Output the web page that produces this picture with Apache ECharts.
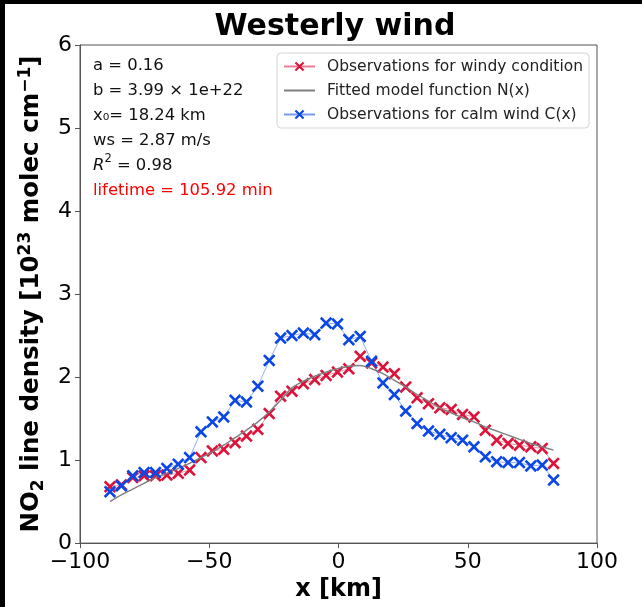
<!DOCTYPE html>
<html>
<head>
<meta charset="utf-8">
<script src="https://cdn.jsdelivr.net/npm/echarts@6/dist/echarts.min.js"></script>
<style>
  html, body { margin: 0; padding: 0; background: #fff; }
  #chart { width: 642px; height: 607px; }
</style>
</head>
<body>
<div id="chart"></div>
<script>
// distance from source (km)
const xKm = [-88.4, -84.0, -79.6, -75.2, -70.8, -66.4, -62.0, -57.6, -53.2, -48.8,
  -44.4, -40.0, -35.6, -31.2, -26.8, -22.4, -18.0, -13.6, -9.2, -4.8,
  -0.4, 4.0, 8.4, 12.8, 17.2, 21.6, 26.0, 30.4, 34.8, 39.2,
  43.6, 48.0, 52.4, 56.8, 61.2, 65.6, 70.0, 74.4, 78.8, 83.2]

// observations, windy condition
const windy = [0.68, 0.70, 0.79, 0.81, 0.81, 0.82, 0.84, 0.88, 1.03, 1.11,
  1.13, 1.21, 1.29, 1.37, 1.56, 1.77, 1.83, 1.92, 1.97, 2.02,
  2.06, 2.10, 2.25, 2.17, 2.12, 2.04, 1.88, 1.75, 1.68, 1.63,
  1.61, 1.55, 1.52, 1.36, 1.24, 1.20, 1.18, 1.16, 1.14, 0.96]

// fitted model N(x)
const fitted = [0.50, 0.58, 0.65, 0.72, 0.79, 0.84, 0.90, 0.96, 1.03, 1.10,
  1.18, 1.27, 1.36, 1.46, 1.58, 1.72, 1.87, 1.95, 2.01, 2.06,
  2.10, 2.13, 2.14, 2.10, 2.04, 1.96, 1.88, 1.79, 1.71, 1.63,
  1.57, 1.51, 1.46, 1.40, 1.35, 1.30, 1.25, 1.20, 1.16, 1.12]

// observations, calm wind C(x)
const calm = [0.62, 0.69, 0.81, 0.85, 0.85, 0.90, 0.95, 1.03, 1.34, 1.46,
  1.52, 1.72, 1.70, 1.89, 2.20, 2.47, 2.50, 2.53, 2.51, 2.65,
  2.64, 2.45, 2.49, 2.19, 1.93, 1.79, 1.59, 1.44, 1.35, 1.31,
  1.27, 1.24, 1.16, 1.04, 0.98, 0.97, 0.97, 0.93, 0.94, 0.76]

const seriesNames = ['Observations for windy condition', 'Fitted model function N(x)', 'Observations for calm wind C(x)']
const fitLines = ['a = 0.16', 'b = 3.99 × 1e+22', 'x₀= 18.24 km', 'ws = 2.87 m/s']

const FONT = 'DejaVu Sans'
const RED = '#dc143c'
const BLUE = '#0a47e6'
const CROSS = 'path://M1.5,0L5,3.5L8.5,0L10,1.5L6.5,5L10,8.5L8.5,10L5,6.5L1.5,10L0,8.5L3.5,5L0,1.5Z'

function zip(ys) {
  return xKm.map((x, i) => [x, ys[i]])
}

const chart = echarts.init(document.getElementById('chart'))

const infoText = []
fitLines.forEach((t, i) => {
  infoText.push({
    type: 'text', left: 93, top: 58 + i * 24.9,
    style: { text: t, font: '16.4px "DejaVu Sans"', fill: '#111' }
  })
})
infoText.push({
  type: 'text', left: 93, top: 153.5,
  style: {
    text: '{i|R}{s|2}{n| = 0.98}',
    rich: {
      i: { fontFamily: FONT, fontSize: 16.4, fontStyle: 'italic', fill: '#111', lineHeight: 24 },
      s: { fontFamily: FONT, fontSize: 11.5, fill: '#111', lineHeight: 12, verticalAlign: 'top' },
      n: { fontFamily: FONT, fontSize: 16.4, fill: '#111', lineHeight: 24 }
    }
  }
})
infoText.push({
  type: 'text', left: 93, top: 183,
  style: { text: 'lifetime = 105.92 min', font: '16.4px "DejaVu Sans"', fill: '#ff0000' }
})

const yName = '{b|NO}{sub|2}{b| line density [10}{sup|23}{b| molec cm}{sup|−1}{b|]}'
const nameFont = { fontFamily: FONT, fontWeight: 'bold', color: '#000' }

chart.setOption({
  animation: false,
  backgroundColor: '#fff',
  grid: {
    left: 80, right: 45, top: 45, bottom: 59,
    show: true, borderColor: '#555', borderWidth: 1
  },
  graphic: [
    { type: 'rect', left: 0, top: 0, shape: { width: 642, height: 4 }, style: { fill: '#000' } },
    { type: 'rect', left: 0, top: 0, shape: { width: 5, height: 607 }, style: { fill: '#000' } },
    {
      type: 'text', x: 335, y: 27,
      style: { text: 'Westerly wind', font: 'bold 30px "DejaVu Sans"', fill: '#000', align: 'center', verticalAlign: 'middle' }
    },
    ...infoText
  ],
  legend: {
    orient: 'vertical',
    left: 277, top: 53,
    data: [
      { name: seriesNames[0] },
      { name: seriesNames[1], itemStyle: { opacity: 0 } },
      { name: seriesNames[2] }
    ],
    itemWidth: 31, itemHeight: 12, itemGap: 7,
    padding: [5, 6, 5, 6],
    backgroundColor: '#fff',
    borderColor: '#d5d5d5', borderWidth: 1, borderRadius: 4,
    textStyle: { fontFamily: FONT, fontSize: 15.5, color: '#222', lineHeight: 17, padding: [0, 0, 0, 7] }
  },
  xAxis: {
    type: 'value', min: -100, max: 100, interval: 50,
    name: 'x [km]', nameLocation: 'middle', nameGap: 32,
    nameTextStyle: { fontFamily: FONT, fontSize: 24, fontWeight: 'bold', color: '#000' },
    axisLine: { onZero: false, lineStyle: { color: '#555' } },
    axisTick: { show: true, length: 5, inside: false, lineStyle: { color: '#555' } },
    axisLabel: {
      fontFamily: FONT, fontSize: 22, color: '#000', margin: 8,
      formatter: v => String(v).replace('-', '\u2212')
    },
    splitLine: { show: false }
  },
  yAxis: {
    type: 'value', min: 0, max: 6, interval: 1,
    name: yName, nameLocation: 'middle', nameGap: 31, nameRotate: 90,
    nameTextStyle: {
      rich: {
        b: Object.assign({ fontSize: 24.5, lineHeight: 30, verticalAlign: 'middle' }, nameFont),
        sup: Object.assign({ fontSize: 17, lineHeight: 17, verticalAlign: 'top' }, nameFont),
        sub: Object.assign({ fontSize: 17, lineHeight: 17, verticalAlign: 'bottom' }, nameFont)
      }
    },
    axisLine: { show: true, onZero: false, lineStyle: { color: '#555' } },
    axisTick: { show: true, length: 5, inside: false, lineStyle: { color: '#555' } },
    axisLabel: { fontFamily: FONT, fontSize: 22, color: '#000', margin: 8 },
    splitLine: { show: false }
  },
  series: [
    {
      name: seriesNames[0], type: 'line', data: zip(windy),
      symbol: CROSS, symbolSize: 12.5,
      itemStyle: { color: RED },
      lineStyle: { color: RED, width: 0.8, opacity: 0.55 },
      z: 2
    },
    {
      name: seriesNames[1], type: 'line', data: zip(fitted),
      symbol: 'none', smooth: 0.3,
      itemStyle: { color: '#7f7f7f' },
      lineStyle: { color: '#7f7f7f', width: 1.4 },
      z: 3
    },
    {
      name: seriesNames[2], type: 'line', data: zip(calm),
      symbol: CROSS, symbolSize: 12.5,
      itemStyle: { color: BLUE },
      lineStyle: { color: BLUE, width: 0.8, opacity: 0.55 },
      z: 4
    }
  ]
})
</script>
</body>
</html>
